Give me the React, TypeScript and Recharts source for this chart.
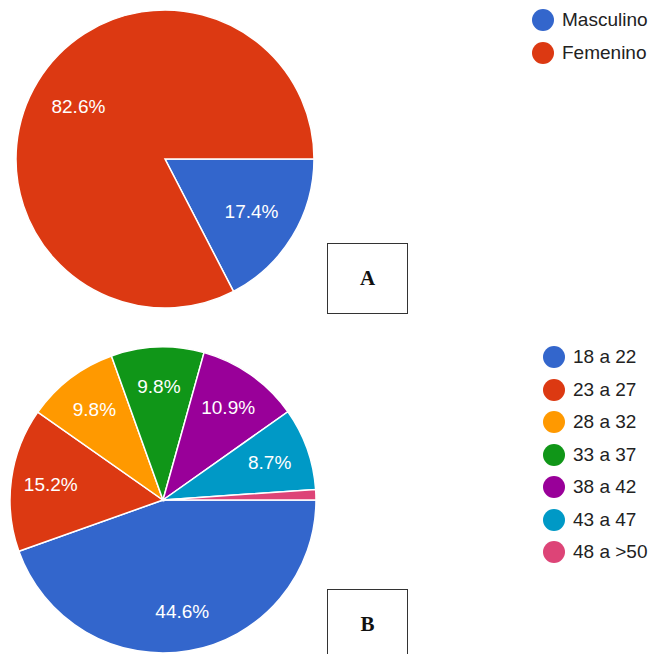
import { PieChart, Pie, Cell, Legend } from 'recharts';

const sexLabels = ['Masculino', 'Femenino'];
const sexValues = [17.4, 82.6];
const sexColors = ['#3366cc', '#dc3912'];

const ageLabels = ['18 a 22', '23 a 27', '28 a 32', '33 a 37', '38 a 42', '43 a 47', '48 a >50'];
const ageValues = [44.6, 15.2, 9.8, 9.8, 10.9, 8.7, 1.1];
const ageColors = ['#3366cc', '#dc3912', '#ff9900', '#109618', '#990099', '#0099c6', '#dd4477'];

const FONT = '"Liberation Sans", Arial, sans-serif';
const RAD = Math.PI / 180;

const makeLabel = (ratio: number) => (props: any) => {
  const { cx, cy, midAngle, outerRadius, value } = props;
  if (value < 5) return null;
  const r = outerRadius * ratio;
  const x = cx + r * Math.cos(-midAngle * RAD);
  const y = cy + r * Math.sin(-midAngle * RAD);
  return (
    <text x={x} y={y} fill="#ffffff" fontSize={19} fontFamily={FONT} textAnchor="middle" dominantBaseline="central">
      {value.toFixed(1)}%
    </text>
  );
};

function renderLegend(labels: string[], colors: string[]) {
  return () => (
    <div style={{ fontFamily: FONT, fontSize: 19, color: '#222' }}>
      {labels.map((l, i) => (
        <div key={l} style={{ display: 'flex', alignItems: 'center', height: 32.5 }}>
          <span style={{ width: 22, height: 22, borderRadius: 11, background: colors[i], marginRight: 8 }} />
          <span>{l}</span>
        </div>
      ))}
    </div>
  );
}

const boxStyle = (top: number): React.CSSProperties => ({
  position: 'absolute',
  left: 327,
  top,
  width: 79,
  height: 69,
  border: '1px solid #333',
  display: 'flex',
  alignItems: 'center',
  justifyContent: 'center',
  fontFamily: '"Liberation Serif", "Times New Roman", serif',
  fontWeight: 'bold',
  fontSize: 21,
  color: '#111',
  background: '#fff',
});

export default function App() {
  const sexData = sexLabels.map((name, i) => ({ name, value: sexValues[i] }));
  const ageData = ageLabels.map((name, i) => ({ name, value: ageValues[i] }));
  return (
    <div style={{ position: 'absolute', left: 0, top: 0, width: 656, height: 654, background: '#fff', overflow: 'hidden' }}>
      <div style={{ position: 'absolute', left: 0, top: 0 }}>
        <PieChart width={656} height={330} margin={{ top: 0, right: 0, bottom: 0, left: 0 }}>
          <Pie
            data={sexData}
            dataKey="value"
            cx={165}
            cy={159}
            outerRadius={149}
            startAngle={0}
            endAngle={-360}
            stroke="#ffffff"
            strokeWidth={1.5}
            label={makeLabel(0.68)}
            labelLine={false}
            isAnimationActive={false}
          >
            {sexData.map((d, i) => (
              <Cell key={d.name} fill={sexColors[i]} />
            ))}
          </Pie>
          <Legend content={renderLegend(sexLabels, sexColors)} wrapperStyle={{ left: 532, top: 4, width: 124 }} />
        </PieChart>
      </div>
      <div style={{ position: 'absolute', left: 0, top: 330 }}>
        <PieChart width={656} height={324} margin={{ top: 0, right: 0, bottom: 0, left: 0 }}>
          <Pie
            data={ageData}
            dataKey="value"
            cx={163}
            cy={170}
            outerRadius={153}
            startAngle={0}
            endAngle={-360}
            stroke="#ffffff"
            strokeWidth={1.5}
            label={makeLabel(0.74)}
            labelLine={false}
            isAnimationActive={false}
          >
            {ageData.map((d, i) => (
              <Cell key={d.name} fill={ageColors[i]} />
            ))}
          </Pie>
          <Legend content={renderLegend(ageLabels, ageColors)} wrapperStyle={{ left: 543, top: 11, width: 113 }} />
        </PieChart>
      </div>
      <div style={boxStyle(243)}>A</div>
      <div style={boxStyle(589)}>B</div>
    </div>
  );
}
